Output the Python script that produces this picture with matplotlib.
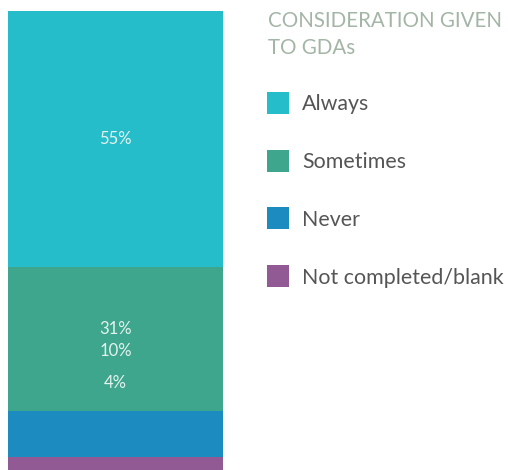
import matplotlib
matplotlib.use('Agg')
import matplotlib.pyplot as plt
from matplotlib.patches import Rectangle

plt.rcParams['font.family'] = ['Lato', 'DejaVu Sans']

categories = ['Always', 'Sometimes', 'Never', 'Not completed/blank']
values = [55, 31, 10, 4]
labels = ['55%', '31%', '10%', '4%']
label_y = [72.5, 31.6, 26.9, 20.0]  # where the labels sit in the original
colors = ['#25BDCA', '#3DA68C', '#1C8BC0', '#925A95']
title = 'CONSIDERATION GIVEN\nTO GDAs'

W, H = 508, 470
fig = plt.figure(figsize=(W / 100, H / 100), dpi=100)
ax = fig.add_axes([8 / W, (H - 476) / H, 215 / W, 465 / H])

bottom = 100
for v, c in zip(values, colors):
    bottom -= v
    ax.bar(0, v, bottom=bottom, width=1, color=c, linewidth=0)

for lab, y in zip(labels, label_y):
    ax.text(0, y, lab, ha='center', va='center', color='#e6f2ef',
            fontsize=12)

ax.set_xlim(-0.5, 0.5)
ax.set_ylim(0, 100)
ax.axis('off')

# legend on the right
fig.text(268 / W, 1 - 11 / H, title, ha='left', va='top', color='#a3b5a5',
         fontsize=14.8, linespacing=1.45)
for i, (cat, c) in enumerate(zip(categories, colors)):
    yc = 103 + i * 57.7
    fig.patches.append(Rectangle((267 / W, 1 - (yc + 11) / H), 22 / W, 22 / H,
                                 transform=fig.transFigure, color=c, linewidth=0))
    fig.text(302 / W, 1 - (yc + 1.5) / H, cat, ha='left', va='center',
             color='#555555', fontsize=15.4)

fig.savefig('out.png', dpi=100)
